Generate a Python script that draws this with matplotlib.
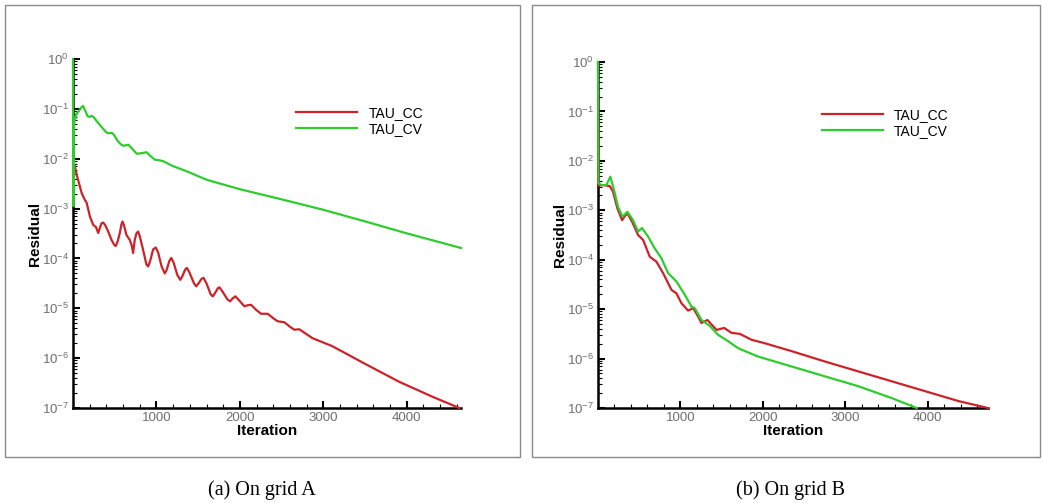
import numpy as np
import matplotlib
matplotlib.use('Agg')
import matplotlib.pyplot as plt
from matplotlib.patches import Rectangle
from matplotlib.ticker import LogLocator, LogFormatterMathtext, MultipleLocator, NullFormatter

plt.rcParams['font.family'] = ['Liberation Sans', 'DejaVu Sans']
plt.rcParams['mathtext.default'] = 'regular'

# residual histories, stored as log10 of the residual
# grid A
iter_cc_a = [0, 12, 44, 104, 143, 163, 203, 243, 275, 302, 320, 340, 362, 385, 422, 462, 495, 513, 535, 561,
             580, 593, 610, 641, 681, 705, 720, 740, 760, 780, 800, 840, 880, 900, 925, 960, 991, 1020, 1060,
             1099, 1120, 1155, 1178, 1205, 1250, 1286, 1310, 1345, 1365, 1395, 1450, 1477, 1505, 1540, 1564,
             1600, 1650, 1675, 1700, 1735, 1755, 1790, 1850, 1883, 1915, 1946, 1990, 2054, 2090, 2134, 2200,
             2254, 2334, 2400, 2453, 2533, 2600, 2652, 2711, 2871, 3108, 3507, 3904, 4302, 4630]
res_cc_a = [-1.95, -2.09, -2.32, -2.69, -2.83, -2.88, -3.16, -3.33, -3.37, -3.49, -3.40, -3.30, -3.28, -3.33,
            -3.46, -3.63, -3.73, -3.75, -3.66, -3.49, -3.32, -3.26, -3.33, -3.53, -3.63, -3.75, -3.89, -3.63,
            -3.50, -3.46, -3.55, -3.83, -4.12, -4.16, -4.05, -3.82, -3.78, -3.88, -4.15, -4.30, -4.24, -4.05,
            -3.99, -4.08, -4.33, -4.43, -4.36, -4.22, -4.19, -4.28, -4.50, -4.56, -4.50, -4.41, -4.39, -4.50,
            -4.72, -4.76, -4.70, -4.60, -4.58, -4.66, -4.82, -4.86, -4.80, -4.76, -4.84, -4.96, -4.94, -4.93,
            -5.04, -5.11, -5.11, -5.20, -5.26, -5.28, -5.37, -5.43, -5.42, -5.60, -5.76, -6.12, -6.47, -6.77,
            -7.0]

iter_cv_a = [0, 4, 12, 40, 68, 95, 119, 150, 175, 200, 227, 255, 286, 345, 405, 435, 465, 495, 525, 565, 604,
             635, 664, 710, 763, 820, 883, 930, 982, 1030, 1081, 1140, 1200, 1280, 1360, 1598, 1996, 2513,
             2990, 3507, 3984, 4650]
res_cv_a = [0.0, -2.95, -1.30, -1.10, -1.05, -0.98, -0.94, -1.05, -1.15, -1.16, -1.14, -1.18, -1.25, -1.37,
            -1.48, -1.49, -1.48, -1.53, -1.62, -1.70, -1.74, -1.73, -1.72, -1.80, -1.90, -1.89, -1.87, -1.95,
            -2.02, -2.03, -2.05, -2.10, -2.15, -2.20, -2.25, -2.42, -2.61, -2.82, -3.02, -3.26, -3.49, -3.79]

# grid B
iter_cc_b = [0, 5, 61, 142, 182, 235, 292, 325, 356, 413, 486, 547, 628, 709, 789, 891, 951, 1012, 1093, 1154,
             1215, 1255, 1328, 1437, 1530, 1619, 1721, 1862, 2024, 2348, 2753, 3158, 3563, 3968, 4372, 4730]
res_cc_b = [0.0, -2.50, -2.49, -2.51, -2.62, -2.96, -3.20, -3.12, -3.06, -3.23, -3.50, -3.60, -3.94, -4.04,
            -4.27, -4.61, -4.68, -4.88, -5.03, -4.98, -5.15, -5.28, -5.22, -5.42, -5.38, -5.48, -5.50, -5.62,
            -5.69, -5.85, -6.06, -6.26, -6.46, -6.66, -6.86, -7.0]

iter_cv_b = [0, 5, 40, 101, 150, 194, 243, 296, 356, 425, 486, 534, 607, 688, 769, 850, 951, 1053, 1134, 1174,
             1255, 1356, 1457, 1579, 1700, 1943, 2348, 2753, 3158, 3563, 3866]
res_cv_b = [0.0, -2.45, -2.49, -2.49, -2.32, -2.59, -2.93, -3.13, -3.03, -3.20, -3.43, -3.36, -3.53, -3.77,
            -3.97, -4.27, -4.44, -4.71, -4.95, -4.98, -5.22, -5.34, -5.52, -5.65, -5.79, -5.96, -6.16, -6.36,
            -6.56, -6.80, -7.0]

series_labels = ['TAU_CC', 'TAU_CV']
captions = ['(a) On grid A', '(b) On grid B']
x_ticks = [1000, 2000, 3000, 4000]

color_cc = '#cc2229'
color_cv = '#2ecc2e'
label_grey = '#6e6e6e'

W, H = 1042, 503


def px_rect(x0, y0, x1, y1):
    # pixel box (top-left origin) to figure fraction [l, b, w, h]
    return [x0 / W, 1 - y1 / H, (x1 - x0) / W, (y1 - y0) / H]


def draw_panel(fig, box, xmax, cc, cv, leg_anchor):

    ax = fig.add_axes(px_rect(*box))

    # curves sit above the spines (and unclipped) so the start-up spike at x=0 shows
    ax.plot(cc[0], 10.0 ** np.array(cc[1]), color=color_cc, lw=1.6, label=series_labels[0],
            zorder=3, clip_on=False)
    ax.plot(cv[0], 10.0 ** np.array(cv[1]), color=color_cv, lw=1.6, label=series_labels[1],
            zorder=3, clip_on=False)

    ax.set_yscale('log')
    ax.set_ylim(1e-7, 1)
    ax.set_xlim(0, xmax)

    for side in ['top', 'right']:
        ax.spines[side].set_visible(False)
    for side in ['left', 'bottom']:
        ax.spines[side].set_linewidth(1.8)

    ax.yaxis.set_major_locator(LogLocator(base=10, numticks=10))
    ax.yaxis.set_minor_locator(LogLocator(base=10, subs=np.arange(2, 10), numticks=10))
    ax.yaxis.set_major_formatter(LogFormatterMathtext())
    ax.yaxis.set_minor_formatter(NullFormatter())

    ax.set_xticks(x_ticks)
    ax.xaxis.set_minor_locator(MultipleLocator(200))

    ax.tick_params(which='major', direction='in', length=5, width=1.5, labelsize=9.5,
                   labelcolor=label_grey, pad=3)
    ax.tick_params(which='minor', direction='in', length=3, width=0.8)

    ax.set_xlabel('Iteration', fontsize=11, fontweight='bold', labelpad=0)
    ax.set_ylabel('Residual', fontsize=11, fontweight='bold', labelpad=0)

    ax.legend(loc='upper left', bbox_to_anchor=leg_anchor, frameon=False, fontsize=10,
              handlelength=4.4, handletextpad=0.8, labelspacing=0.15, borderpad=0, borderaxespad=0)
    return ax


def main():

    fig = plt.figure(figsize=(W / 100, H / 100), dpi=100)

    # panel frames
    for x0, x1 in [(5, 520), (532, 1040)]:
        l, b, w, h = px_rect(x0, 5, x1, 457)
        fig.add_artist(Rectangle((l, b), w, h, transform=fig.transFigure, fill=False,
                                 edgecolor='#8a8a8a', lw=1.0))

    draw_panel(fig, (73, 59, 461, 408), 4650, (iter_cc_a, res_cc_a), (iter_cv_a, res_cv_a), (0.575, 0.865))
    draw_panel(fig, (598, 62, 988, 408), 4730, (iter_cc_b, res_cc_b), (iter_cv_b, res_cv_b), (0.574, 0.868))

    for xc, text in zip([262, 790], captions):
        fig.text(xc / W, 1 - 490 / H, text, ha='center', va='center', fontsize=14.5,
                 family=['Liberation Serif', 'DejaVu Serif'])

    fig.savefig('out.png', dpi=100)


if __name__ == "__main__":
    main()
